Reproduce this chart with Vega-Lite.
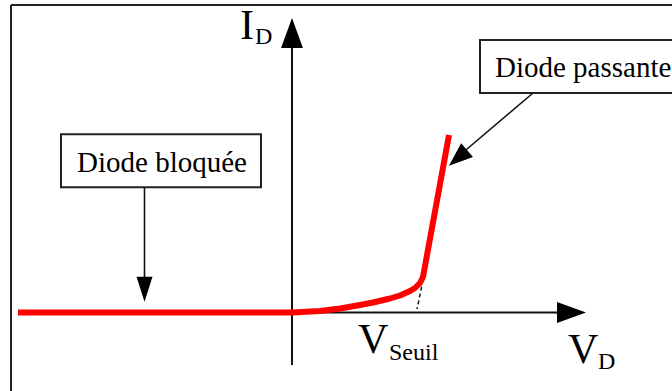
{
  "$schema": "https://vega.github.io/schema/vega-lite/v6.json",
  "width": 672,
  "height": 391,
  "padding": 0,
  "autosize": {"type": "none"},
  "background": "white",
  "config": {"view": {"stroke": null}},
  "datasets": {
    "frame": [
      {"x": -2.81, "y": -0.9, "x2": -2.81, "y2": 3.075},
      {"x": -2.81, "y": 3.075, "x2": 3.95, "y2": 3.075}
    ],
    "axes": [
      {"x": 0, "y": -0.525, "x2": 0, "y2": 2.75},
      {"x": 0, "y": 0, "x2": 2.72, "y2": 0}
    ],
    "yarrow": [{"x": 0, "y": 2.795}],
    "xarrow": [{"x": 2.795, "y": 0}],
    "dashed": [{"x": 1.297, "y": 0.258, "x2": 1.25, "y2": 0.035}],
    "pointers": [
      {"x": -1.475, "y": 1.252, "x2": -1.475, "y2": 0.3},
      {"x": 2.41, "y": 2.195, "x2": 1.68, "y2": 1.575}
    ],
    "downarrow": [{"x": -1.475, "y": 0.233}],
    "diagarrow": [{"x": 1.66, "y": 1.545}],
    "curve": [
      {"x": -2.74, "y": 0},
      {"x": 0, "y": 0},
      {"x": 0.28, "y": 0.015},
      {"x": 0.48, "y": 0.04},
      {"x": 0.68, "y": 0.075},
      {"x": 0.81, "y": 0.1},
      {"x": 0.98, "y": 0.14},
      {"x": 1.08, "y": 0.17},
      {"x": 1.18, "y": 0.215},
      {"x": 1.23, "y": 0.245},
      {"x": 1.28, "y": 0.295},
      {"x": 1.31, "y": 0.355},
      {"x": 1.57, "y": 1.775}
    ],
    "boxes": [
      {"x": -2.31, "y": 1.782, "x2": -0.31, "y2": 1.252},
      {"x": 1.88, "y": 2.725, "x2": 3.95, "y2": 2.195}
    ],
    "boxcenter": [{"x": -1.3, "y": 1.408, "label": "Diode bloquée"}],
    "boxleft": [{"x": 2.03, "y": 2.355, "label": "Diode passante"}],
    "big": [
      {"x": -0.52, "y": 2.735, "label": "I"},
      {"x": 2.76, "y": -0.505, "label": "V"},
      {"x": 0.66, "y": -0.405, "label": "V"}
    ],
    "subs": [
      {"x": -0.37, "y": 2.685, "label": "D"},
      {"x": 3.06, "y": -0.565, "label": "D"},
      {"x": 0.97, "y": -0.475, "label": "Seuil"}
    ]
  },
  "encoding": {
    "x": {"field": "x", "type": "quantitative", "axis": null,
          "scale": {"domain": [-2.92, 3.8], "nice": false, "zero": false}},
    "y": {"field": "y", "type": "quantitative", "axis": null,
          "scale": {"domain": [-0.785, 3.125], "nice": false, "zero": false}}
  },
  "layer": [
    {
      "data": {"name": "frame"},
      "mark": {"type": "rule", "color": "#222222", "strokeWidth": 2, "clip": true},
      "encoding": {"x2": {"field": "x2"}, "y2": {"field": "y2"}}
    },
    {
      "data": {"name": "axes"},
      "mark": {"type": "rule", "color": "#111111", "strokeWidth": 2},
      "encoding": {"x2": {"field": "x2"}, "y2": {"field": "y2"}}
    },
    {
      "data": {"name": "yarrow"},
      "mark": {"type": "point", "shape": "M0,-1 L0.73,1 L-0.73,1 Z", "size": 900, "filled": true, "color": "#000000", "opacity": 1}
    },
    {
      "data": {"name": "xarrow"},
      "mark": {"type": "point", "shape": "M1,0 L-1,0.72 L-1,-0.72 Z", "size": 841, "filled": true, "color": "#000000", "opacity": 1}
    },
    {
      "data": {"name": "dashed"},
      "mark": {"type": "rule", "color": "#111111", "strokeWidth": 1.5, "strokeDash": [4, 3]},
      "encoding": {"x2": {"field": "x2"}, "y2": {"field": "y2"}}
    },
    {
      "data": {"name": "pointers"},
      "mark": {"type": "rule", "color": "#111111", "strokeWidth": 1.6},
      "encoding": {"x2": {"field": "x2"}, "y2": {"field": "y2"}}
    },
    {
      "data": {"name": "downarrow"},
      "mark": {"type": "point", "shape": "M0,1 L-0.64,-1 L0.64,-1 Z", "size": 625, "filled": true, "color": "#000000", "opacity": 1}
    },
    {
      "data": {"name": "diagarrow"},
      "mark": {"type": "point", "shape": "M1,0 L-1,0.75 L-1,-0.75 Z", "size": 576, "angle": 139, "filled": true, "color": "#000000", "opacity": 1}
    },
    {
      "data": {"name": "curve"},
      "mark": {"type": "line", "color": "#ff0000", "strokeWidth": 6, "strokeCap": "butt", "strokeJoin": "round", "interpolate": "linear"}
    },
    {
      "data": {"name": "boxes"},
      "mark": {"type": "rect", "fill": "white", "stroke": "#222222", "strokeWidth": 2, "clip": true},
      "encoding": {"x2": {"field": "x2"}, "y2": {"field": "y2"}}
    },
    {
      "data": {"name": "boxcenter"},
      "mark": {"type": "text", "font": "Liberation Serif", "fontSize": 29, "align": "center", "baseline": "alphabetic", "color": "#000000"},
      "encoding": {"text": {"field": "label"}}
    },
    {
      "data": {"name": "boxleft"},
      "mark": {"type": "text", "font": "Liberation Serif", "fontSize": 29, "align": "left", "baseline": "alphabetic", "color": "#000000", "clip": true},
      "encoding": {"text": {"field": "label"}}
    },
    {
      "data": {"name": "big"},
      "mark": {"type": "text", "font": "Liberation Serif", "fontSize": 42, "align": "left", "baseline": "alphabetic", "color": "#000000"},
      "encoding": {"text": {"field": "label"}}
    },
    {
      "data": {"name": "subs"},
      "mark": {"type": "text", "font": "Liberation Serif", "fontSize": 24, "align": "left", "baseline": "alphabetic", "color": "#000000"},
      "encoding": {"text": {"field": "label"}}
    }
  ]
}
